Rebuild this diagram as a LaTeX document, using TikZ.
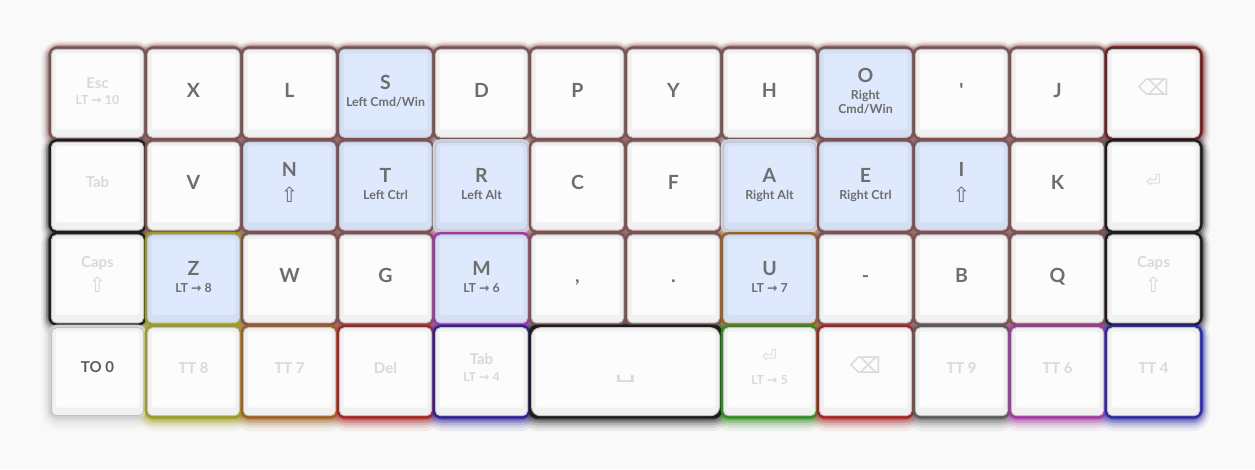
\documentclass[tikz,border=0pt]{standalone}
\usepackage{fontspec}
\setmainfont{Lato}
\newfontfamily\symfont{DejaVu Sans}
\pgfdeclarelayer{glow}
\pgfsetlayers{glow,main}
\definecolor{pagebg}{HTML}{F9F9F9}
\definecolor{keyink}{HTML}{6E6E6E}
\definecolor{keydim}{HTML}{D9D9D9}
\definecolor{plainedge}{HTML}{C2C2C2}
\definecolor{plainbase}{HTML}{F1F1F1}
\definecolor{plaintop}{HTML}{FCFCFC}
\definecolor{modedge}{HTML}{B9C3D6}
\definecolor{modbase}{HTML}{D5DFF3}
\definecolor{modtop}{HTML}{DFE9FD}
\definecolor{glowbrown}{HTML}{7D5151}
\definecolor{glowmaroon}{HTML}{6B1E1E}
\definecolor{glowblack}{HTML}{1C1C1C}
\definecolor{glowpale}{HTML}{D2D2D2}
\definecolor{glowolive}{HTML}{9C9C1E}
\definecolor{glowamber}{HTML}{A0601C}
\definecolor{glowred}{HTML}{A82222}
\definecolor{glowindigo}{HTML}{2E2098}
\definecolor{glowgreen}{HTML}{2F8D1F}
\definecolor{glowgrey}{HTML}{5A5A5A}
\definecolor{glowmagenta}{HTML}{A436A4}
\definecolor{glowblue}{HTML}{2A2AA6}
\newcommand{\keysub}{\fontsize{12.4}{14}\selectfont}
\newcommand{\keyto}{{\symfont →}}
\newcommand{\shiftglyph}{{\symfont\mdseries\fontsize{21}{14}\selectfont ⇧}}
\newcommand{\eraseglyph}{{\symfont\mdseries\fontsize{22}{14}\selectfont ⌫}}
\newcommand{\returnglyph}{{\symfont\mdseries\fontsize{18}{14}\selectfont ⏎}}
\newcommand{\spaceglyph}{{\symfont\mdseries\fontsize{20}{14}\selectfont\scalebox{1.7}[1.1]{␣}}}

\begin{document}
\begin{tikzpicture}[
  x=1pt,
  y=1pt,
  every node/.style={font=\bfseries\fontsize{19.5}{14}\selectfont, text=keyink},
  % the last baseline of a legend sits at half its value below the key centre
  legendat/.style={text height=#1, text depth=0pt},
  keycap/.style={anchor=north west, rounded corners=5pt, line width=1pt,
    minimum width=92pt, minimum height=88pt, inner sep=0pt, outer sep=0pt,
    align=center, legendat=7.4pt},
  plainkey/.style={keycap, draw=plainedge, fill=plainbase,
    path picture={\fill[plaintop, rounded corners=3pt]
      ([xshift=4pt, yshift=8pt]path picture bounding box.south west) rectangle
      ([xshift=-4pt, yshift=-4pt]path picture bounding box.north east);}},
  modkey/.style={keycap, draw=modedge, fill=modbase, legendat=26.8pt,
    path picture={\fill[modtop, rounded corners=3pt]
      ([xshift=4pt, yshift=8pt]path picture bounding box.south west) rectangle
      ([xshift=-4pt, yshift=-4pt]path picture bounding box.north east);}},
  dimkey/.style={plainkey, text=keydim, font=\bfseries\fontsize{15}{14}\selectfont,
    legendat=3.5pt},
  layerkey/.style={plainkey, font=\bfseries\fontsize{15}{14}\selectfont,
    text=keyink!85!black, legendat=2pt},
  glowring/.style={draw=#1, line width=6pt, rounded corners=6pt},
  glowhaze/.style n args={3}{draw=#1, draw opacity=#2, line width=#3, rounded corners=8pt}
]
  \useasboundingbox (0,0) rectangle (1255,-469);

  % ---- row 1 ----
  \node[dimkey, legendat=23.2pt] (esc) at (51.5,-49.3) {Esc\\[2.8pt]\keysub LT \keyto{} 10};
  \node[plainkey] (x) at (147.5,-49.3) {X};
  \node[plainkey] (l) at (243.5,-49.3) {L};
  \node[modkey] (s) at (339.5,-49.3) {S\\[3pt]\keysub Left Cmd/Win};
  \node[plainkey] (d) at (435.5,-49.3) {D};
  \node[plainkey] (p) at (531.5,-49.3) {P};
  \node[plainkey] (y) at (627.5,-49.3) {Y};
  \node[plainkey] (h) at (723.5,-49.3) {H};
  \node[modkey, legendat=41.2pt] (o) at (819.5,-49.3) {O\\[3.6pt]\keysub Right\\\keysub Cmd/Win};
  \node[plainkey] (quote) at (915.5,-49.3) {\textquotesingle};
  \node[plainkey] (j) at (1011.5,-49.3) {J};
  \node[dimkey] (bspace) at (1107.5,-49.3) {\eraseglyph};

  % ---- row 2 ----
  \node[dimkey] (tab) at (51.5,-142.1) {Tab};
  \node[plainkey] (v) at (147.5,-142.1) {V};
  \node[modkey, legendat=32.4pt] (n) at (243.5,-142.1) {N\\[8.5pt]\shiftglyph};
  \node[modkey] (t) at (339.5,-142.1) {T\\[3pt]\keysub Left Ctrl};
  \node[modkey] (r) at (435.5,-142.1) {R\\[3pt]\keysub Left Alt};
  \node[plainkey] (c) at (531.5,-142.1) {C};
  \node[plainkey] (f) at (627.5,-142.1) {F};
  \node[modkey] (a) at (723.5,-142.1) {A\\[3pt]\keysub Right Alt};
  \node[modkey] (e) at (819.5,-142.1) {E\\[3pt]\keysub Right Ctrl};
  \node[modkey, legendat=32.4pt] (i) at (915.5,-142.1) {I\\[8.5pt]\shiftglyph};
  \node[plainkey] (k) at (1011.5,-142.1) {K};
  \node[dimkey] (enter) at (1107.5,-142.1) {\returnglyph};

  % ---- row 3 ----
  \node[dimkey, legendat=27.6pt] (lcaps) at (51.5,-234.9) {Caps\\[6pt]\shiftglyph};
  \node[modkey] (z) at (147.5,-234.9) {Z\\[3pt]\keysub LT \keyto{} 8};
  \node[plainkey] (w) at (243.5,-234.9) {W};
  \node[plainkey] (g) at (339.5,-234.9) {G};
  \node[modkey] (m) at (435.5,-234.9) {M\\[3pt]\keysub LT \keyto{} 6};
  \node[plainkey] (comma) at (531.5,-234.9) {,};
  \node[plainkey] (period) at (627.5,-234.9) {.};
  \node[modkey] (u) at (723.5,-234.9) {U\\[3pt]\keysub LT \keyto{} 7};
  \node[plainkey] (minus) at (819.5,-234.9) {-};
  \node[plainkey] (b) at (915.5,-234.9) {B};
  \node[plainkey] (q) at (1011.5,-234.9) {Q};
  \node[dimkey, legendat=27.6pt] (rcaps) at (1107.5,-234.9) {Caps\\[6pt]\shiftglyph};

  % ---- row 4 ----
  \node[layerkey] (to0) at (51.5,-327.7) {TO 0};
  \node[dimkey] (tt8) at (147.5,-327.7) {TT 8};
  \node[dimkey] (tt7) at (243.5,-327.7) {TT 7};
  \node[dimkey] (del) at (339.5,-327.7) {Del};
  \node[dimkey, legendat=20pt] (ltab) at (435.5,-327.7) {Tab\\[2.8pt]\keysub LT \keyto{} 4};
  \node[dimkey, minimum width=188pt, rounded corners=9pt] (space) at (531.5,-327.7)
    {\raisebox{-4pt}{\spaceglyph}};
  \node[dimkey, legendat=25.3pt] (lenter) at (723.5,-327.7) {\returnglyph\\[7.8pt]\keysub LT \keyto{} 5};
  \node[dimkey] (rbspace) at (819.5,-327.7) {\eraseglyph};
  \node[dimkey] (tt9) at (915.5,-327.7) {TT 9};
  \node[dimkey] (tt6) at (1011.5,-327.7) {TT 6};
  \node[dimkey] (tt4) at (1107.5,-327.7) {TT 4};

  % ---- coloured glow behind every key ----
  \def\glowlist{esc/glowbrown, x/glowbrown, l/glowbrown, s/glowbrown,
    d/glowbrown, p/glowbrown, y/glowbrown, h/glowbrown, o/glowbrown,
    quote/glowbrown, j/glowbrown, bspace/glowmaroon,
    tab/glowblack, v/glowbrown, n/glowbrown, t/glowbrown, r/glowpale,
    c/glowbrown, f/glowbrown, a/glowpale, e/glowbrown, i/glowbrown,
    k/glowbrown, enter/glowblack,
    lcaps/glowblack, z/glowolive, w/glowbrown, g/glowbrown, m/glowmagenta,
    comma/glowbrown, period/glowbrown, u/glowamber, minus/glowbrown,
    b/glowbrown, q/glowbrown, rcaps/glowblack,
    to0/glowpale, tt8/glowolive, tt7/glowamber, del/glowred, ltab/glowindigo,
    space/glowblack, lenter/glowgreen, rbspace/glowred, tt9/glowgrey,
    tt6/glowmagenta, tt4/glowblue}
  \begin{pgfonlayer}{glow}
    \fill[pagebg] (0,0) rectangle (1255,-469);
    \foreach \kname/\ktint in \glowlist
      \foreach \hop/\fade/\wide in {5/0.07/21pt, 4/0.1/17pt, 3/0.16/14pt, 2/0.25/11pt, 1/0.4/8pt}
        \draw[glowhaze={\ktint}{\fade}{\wide}] ([yshift=-\hop pt]\kname.south west)
          rectangle ([yshift={-0.4*\hop pt}]\kname.north east);
    \foreach \kname/\ktint in \glowlist
      \draw[glowring=\ktint] (\kname.south west) rectangle (\kname.north east);
  \end{pgfonlayer}
\end{tikzpicture}
\end{document}
